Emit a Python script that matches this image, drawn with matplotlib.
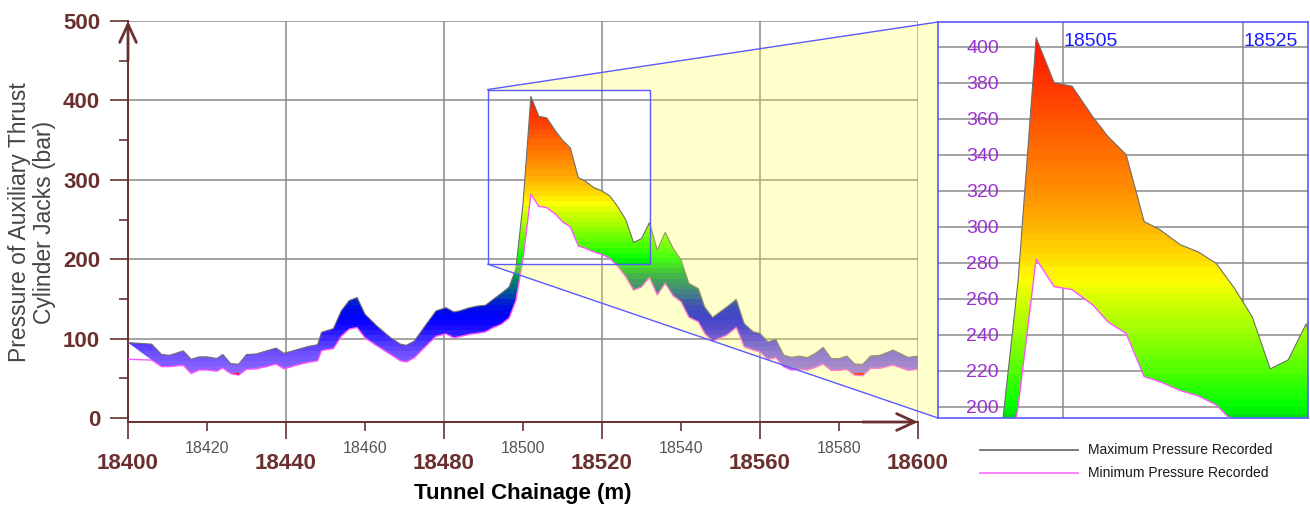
import numpy as np
import matplotlib
matplotlib.use("Agg")
import matplotlib.pyplot as plt
from matplotlib.colors import LinearSegmentedColormap
from matplotlib.path import Path
from matplotlib.patches import PathPatch, Polygon
from matplotlib.lines import Line2D

plt.rcParams['font.family'] = ['Liberation Sans', 'DejaVu Sans']

# ---------------------------------------------------------------- data
chainage = [18400, 18406, 18408.5, 18410.5, 18414, 18416, 18418, 18420, 18422.5, 18424,
            18426, 18428, 18430, 18432.5, 18435, 18437.5, 18439.5, 18442.5, 18445.5, 18448,
            18449, 18452, 18454, 18456, 18458, 18460, 18463, 18466.5, 18469, 18470.5,
            18472.5, 18475.5, 18478, 18480.5, 18482.5, 18484, 18486.5, 18488.5, 18490.5, 18492.5,
            18494.5, 18496.5, 18498.2, 18500, 18502, 18504, 18506, 18508.3, 18510, 18512,
            18514, 18515.7, 18518, 18520, 18522, 18524, 18526, 18528, 18530, 18532,
            18534, 18536, 18538, 18540, 18542, 18544.4, 18546, 18548, 18551.6, 18554,
            18556, 18558.3, 18560, 18562, 18564, 18566, 18568, 18570, 18572, 18574,
            18576, 18578, 18580, 18582, 18584, 18586, 18588, 18590.4, 18593.7, 18597.5,
            18600]

max_pressure = [95, 93, 80, 79, 84.5, 74, 77, 77, 75, 80,
                68.5, 67.7, 80, 80.7, 84.5, 88, 81.5, 85.7, 90, 92.4,
                108, 112.6, 135, 148, 151.7, 130.7, 116, 101, 93, 91.6,
                97, 118, 135, 139, 133.6, 135, 139, 141, 142, 149.6,
                157, 165, 188, 270, 405, 380, 378, 361, 350, 340,
                302.8, 298.5, 290, 286, 279.6, 266, 250, 221, 226, 246,
                211.6, 233.8, 213.7, 199, 169.6, 163, 140, 126.8, 140, 149.5,
                119, 108.7, 106.6, 96, 99, 79.3, 76.4, 78, 76, 81.4,
                89, 75.2, 74.7, 78, 68, 67.6, 78, 79, 85.6, 76.4,
                78]

min_pressure = [74, 73, 64.7, 64.7, 66.4, 56, 60.5, 60.5, 59, 63,
                56, 54, 61.4, 62, 64.7, 68, 62, 66.4, 70, 72,
                85, 87.4, 103, 112, 114, 101, 91, 80, 72, 70.6,
                76, 91, 103, 106, 101, 102.5, 105.5, 106.7, 108.5, 114,
                118, 126, 148, 200, 282, 266.7, 265, 256.5, 247, 240.7,
                216.7, 214, 209, 206, 201, 191, 178, 161, 165, 177,
                155, 169.6, 154, 146.5, 126.8, 121, 106.6, 96.5, 104.5, 114,
                89.8, 85.5, 83.5, 73.9, 76, 64.6, 60.5, 61.3, 60.5, 63.8,
                68, 60, 60, 61.3, 54, 53.3, 62.6, 62.6, 66.7, 60,
                61.3]

y_major = [0, 100, 200, 300, 400, 500]
y_minor = [50, 150, 250, 350, 450]
x_major = [18400, 18440, 18480, 18520, 18560, 18600]
x_minor = [18420, 18460, 18500, 18540, 18580]
zoom_x = (18491.1, 18532.2)
zoom_y = (193.7, 413.7)
zoom_yticks = list(range(200, 401, 20))
zoom_xticks = [18505, 18525]

# ---------------------------------------------------------------- colours
BROWN = '#6a2f2f'
LOW_LIMIT, HIGH_LIMIT = 57, 405
anchors = [(57, '#9068ff'), (80, '#7050ff'), (95, '#5038ff'), (110, '#2010ff'),
           (125, '#0000ff'), (142, '#0010e0'), (152, '#0040b0'), (162, '#006090'),
           (172, '#008068'), (182, '#00a840'), (192, '#00d818'), (200, '#00ff00'),
           (220, '#50ff00'), (240, '#98ff00'), (258, '#d0ff00'), (270, '#ffff00'),
           (282, '#ffe000'), (295, '#ffc000'), (310, '#ffa000'), (330, '#ff8000'),
           (350, '#ff6400'), (370, '#ff4400'), (390, '#ff2800'), (405, '#ff1000')]
cmap = LinearSegmentedColormap.from_list(
    'pressure', [((v - LOW_LIMIT) / (HIGH_LIMIT - LOW_LIMIT), c) for v, c in anchors])


def banded_band(axis, x, upper, lower, lo, hi, step):
    """Fill between two curves with horizontal colour bands keyed to pressure."""
    ys = np.linspace(lo, hi, 3000)
    q = np.floor(ys / step) * step + step / 2
    rgba = cmap(np.clip((q - LOW_LIMIT) / (HIGH_LIMIT - LOW_LIMIT), 0, 1))
    rgba[ys < LOW_LIMIT] = (1, 0, 0, 1)
    img = rgba[:, None, :]
    im = axis.imshow(img, extent=[x[0], x[-1], lo, hi], origin='lower',
                     aspect='auto', interpolation='nearest', zorder=2)
    verts = np.concatenate([np.column_stack([x, upper]),
                            np.column_stack([x[::-1], lower[::-1]])])
    clip = PathPatch(Path(verts, closed=True), facecolor='none',
                     edgecolor='none', transform=axis.transData)
    axis.add_patch(clip)
    im.set_clip_path(clip)
    axis.plot(x, upper, color='#6e6e6e', lw=0.8, zorder=3)
    axis.plot(x, lower, color='#ff55ff', lw=1.0, zorder=3)


x = np.array(chainage, dtype=float)
ymax = np.array(max_pressure, dtype=float)
ymin = np.array(min_pressure, dtype=float)

W, H = 1310, 509
fig = plt.figure(figsize=(W / 100, H / 100), dpi=100)


def fx(px):
    return px / W


def fy(py):
    return 1 - py / H


# ---------------------------------------------------------------- main axes
ax = fig.add_axes([fx(128), fy(422), fx(918) - fx(128), fy(21) - fy(422)])
banded_band(ax, x, ymax, ymin, -5, 500, 6.5)
ax.set_xlim(18400, 18600)
ax.set_ylim(-5, 500)

for v in y_major[1:]:
    ax.axhline(v, color='#8a8a8a', lw=1.1, zorder=1)
for v in x_major[1:]:
    ax.axvline(v, color='#8a8a8a', lw=1.1, zorder=1)

for side in ('top', 'right'):
    ax.spines[side].set_visible(False)
for side in ('left', 'bottom'):
    ax.spines[side].set_color(BROWN)
    ax.spines[side].set_linewidth(1.4)

ax.set_yticks(y_major)
ax.set_yticks(y_minor, minor=True)
ax.set_yticklabels([str(v) for v in y_major], fontsize=16, fontweight='bold', color=BROWN)
ax.set_xticks(x_major)
ax.set_xticklabels([str(v) for v in x_major], fontsize=16, fontweight='bold', color=BROWN)
ax.set_xticks(x_minor, minor=True)
ax.set_xticklabels([str(v) for v in x_minor], minor=True, fontsize=11.5, color='#555555')
ax.tick_params(axis='y', which='major', length=13, width=1.2, color=BROWN, pad=7)
ax.tick_params(axis='y', which='minor', length=6.5, width=1.2, color=BROWN)
ax.tick_params(axis='x', which='major', length=12, width=1.2, color=BROWN, pad=10)
ax.tick_params(axis='x', which='minor', length=6.5, width=1.2, color=BROWN, pad=7)

arrow = dict(arrowstyle='->,head_length=1.3,head_width=0.6', lw=2, color=BROWN,
             shrinkA=0, shrinkB=0)
ax.annotate('', xy=(0, 1), xytext=(0, 0.9), xycoords='axes fraction',
            arrowprops=arrow, annotation_clip=False)
ax.annotate('', xy=(1, 0), xytext=(0.93, 0), xycoords='axes fraction',
            arrowprops=arrow, annotation_clip=False)

fig.text(fx(32), fy(222), 'Pressure of Auxiliary Thrust\nCylinder Jacks (bar)',
         rotation=90, ha='center', va='center', fontsize=16.5, color='#454545',
         linespacing=1.08)
fig.text(fx(523), fy(494), 'Tunnel Chainage (m)', ha='center', va='center',
         fontsize=16, fontweight='bold', color='black')

# ---------------------------------------------------------------- zoomed view
in_l, in_r, in_t, in_b = 938, 1308, 22, 418
ax_in = fig.add_axes([fx(in_l), fy(in_b), fx(in_r) - fx(in_l), fy(in_t) - fy(in_b)],
                     zorder=3)
banded_band(ax_in, x, ymax, ymin, zoom_y[0], zoom_y[1], 3.7)
ax_in.set_xlim(*zoom_x)
ax_in.set_ylim(*zoom_y)
ax_in.set_yticks(zoom_yticks)
ax_in.set_yticklabels([str(v) for v in zoom_yticks], fontsize=14, color='#9b30d0')
ax_in.set_xticks(zoom_xticks)
ax_in.set_xticklabels([str(v) for v in zoom_xticks], fontsize=14, color='#1a1aff')
ax_in.tick_params(axis='y', length=0, pad=-44)
ax_in.tick_params(axis='x', length=0, top=True, bottom=False, labeltop=True,
                  labelbottom=False, pad=-20)
for lbl in ax_in.get_xticklabels():
    lbl.set_ha('left')
ax_in.grid(True, color='#8a8a8a', lw=1.1)
ax_in.set_axisbelow(True)
for sp in ax_in.spines.values():
    sp.set_color('#5a5aff')
    sp.set_linewidth(1.2)

# ---------------------------------------------------------------- zoom guides
to_fig = ax.transData + fig.transFigure.inverted()
r_tl = to_fig.transform((zoom_x[0], zoom_y[1]))
r_bl = to_fig.transform((zoom_x[0], zoom_y[0]))
r_br = to_fig.transform((zoom_x[1], zoom_y[0]))
r_tr = to_fig.transform((zoom_x[1], zoom_y[1]))
i_tl = (fx(in_l), fy(in_t))
i_bl = (fx(in_l), fy(in_b))

fig.add_artist(Polygon([r_tl, i_tl, i_bl, r_bl, r_br, r_tr], closed=True,
                       transform=fig.transFigure, facecolor='#ffff40', alpha=0.27,
                       edgecolor='none', zorder=1))
guide = dict(transform=fig.transFigure, color='#5a5aff', lw=1.0, zorder=2)
fig.add_artist(Line2D([r_tl[0], i_tl[0]], [r_tl[1], i_tl[1]], **guide))
fig.add_artist(Line2D([r_bl[0], i_bl[0]], [r_bl[1], i_bl[1]], **guide))
fig.add_artist(Line2D([r_tl[0], r_tr[0], r_br[0], r_bl[0], r_tl[0]],
                      [r_tl[1], r_tr[1], r_br[1], r_bl[1], r_tl[1]], **guide))

# ---------------------------------------------------------------- legend
fig.add_artist(Line2D([fx(980), fx(1078)], [fy(450), fy(450)], transform=fig.transFigure,
                      color='#7a7a7a', lw=1.4))
fig.add_artist(Line2D([fx(980), fx(1078)], [fy(473), fy(473)], transform=fig.transFigure,
                      color='#ff80ff', lw=1.4))
fig.text(fx(1088), fy(450), 'Maximum Pressure Recorded', ha='left', va='center',
         fontsize=10, color='#1a1a1a')
fig.text(fx(1088), fy(473), 'Minimum Pressure Recorded', ha='left', va='center',
         fontsize=10, color='#1a1a1a')

fig.savefig('out.png', dpi=100)
